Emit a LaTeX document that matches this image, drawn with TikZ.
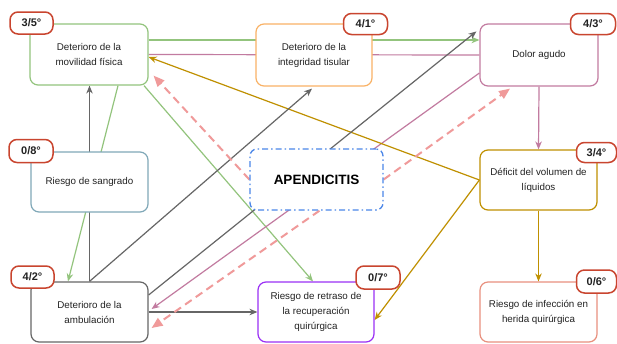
\documentclass[tikz,border=0pt]{standalone}
\usepackage{fontspec}
\setmainfont{Liberation Sans}
\usetikzlibrary{arrows.meta,calc}
\pgfdeclarelayer{bg}
\pgfdeclarelayer{edges}
\pgfsetlayers{bg,edges,main}
\definecolor{cgreen}{HTML}{93C47D}
\definecolor{corange}{HTML}{F9B266}
\definecolor{cmauve}{HTML}{C27BA0}
\definecolor{cteal}{HTML}{80A8B8}
\definecolor{cblue}{HTML}{4A86E8}
\definecolor{cgold}{HTML}{BF9000}
\definecolor{cgray}{HTML}{666666}
\definecolor{cpurple}{HTML}{9B30F5}
\definecolor{csalmon}{HTML}{E8907E}
\definecolor{cred}{HTML}{C9452F}
\definecolor{cdash}{HTML}{F09A9A}
\definecolor{ctext}{HTML}{222222}
\begin{document}
\begin{tikzpicture}[x=1pt,y=-1pt,
  box/.style={draw, fill=white, rounded corners=8pt, line width=1.2pt, align=center,
    text=ctext, font=\fontsize{9.8}{15}\selectfont, inner sep=0pt},
  badge/.style={draw=cred, fill=white, rounded corners=8pt, line width=1.5pt,
    text=ctext, font=\bfseries\fontsize{11}{12}\selectfont, inner sep=0pt},
  conn/.style={line width=1.2pt, -{Stealth[length=8pt,width=6.5pt]}},
  plain/.style={line width=1.2pt},
  dconn/.style={line width=2pt, color=cdash, dash pattern=on 8pt off 5pt,
    -{Triangle[length=11pt,width=9pt]}}]
\useasboundingbox (0,0) rectangle (617,343);
\begin{pgfonlayer}{bg}
\fill[white] (0,0) rectangle (617,343);
\end{pgfonlayer}

% boxes
\node[box, draw=cgreen, minimum width=118pt, minimum height=61pt] (mov) at (89,54.5) {Deterioro de la\\movilidad física};
\node[box, draw=corange, minimum width=116pt, minimum height=62pt] (tis) at (314,55) {Deterioro de la\\integridad tisular};
\node[box, draw=cmauve, minimum width=118pt, minimum height=62pt] (dol) at (539,55) {Dolor agudo};
\node[box, draw=cteal, minimum width=117pt, minimum height=60pt] (san) at (89.5,182) {Riesgo de sangrado};
\node[box, draw=cblue, line width=1.3pt, dash pattern=on 6pt off 3pt on 1.5pt off 3pt,
  rounded corners=7pt, minimum width=133pt, minimum height=61pt,
  font=\bfseries\fontsize{13.5}{15}\selectfont, text=black] (ape) at (316.5,179.5) {APENDICITIS};
\node[box, draw=cgold, minimum width=117pt, minimum height=60pt] (def) at (538.5,180) {Déficit del volumen de\\líquidos};
\node[box, draw=cgray, minimum width=117pt, minimum height=60pt] (amb) at (89.5,312) {Deterioro de la\\ambulación};
\node[box, draw=cpurple, minimum width=116pt, minimum height=60pt] (ret) at (316,312) {Riesgo de retraso de\\la recuperación\\quirúrgica};
\node[box, draw=csalmon, minimum width=117pt, minimum height=60pt] (inf) at (538.5,312) {Riesgo de infección en\\herida quirúrgica};

% badges
\node[badge, minimum width=43pt, minimum height=22pt] (b1) at (31.5,23) {3/5°};
\node[badge, minimum width=44pt, minimum height=21pt] (b2) at (365.5,24) {4/1°};
\node[badge, minimum width=45pt, minimum height=21pt] (b3) at (593,24) {4/3°};
\node[badge, minimum width=44pt, minimum height=23pt] (b4) at (31,151) {0/8°};
\node[badge, minimum width=40pt, minimum height=20pt] (b5) at (596.5,152.5) {3/4°};
\node[badge, minimum width=43pt, minimum height=22pt] (b6) at (32.5,277) {4/2°};
\node[badge, minimum width=44pt, minimum height=23pt] (b7) at (378,277.5) {0/7°};
\node[badge, minimum width=40pt, minimum height=23pt] (b8) at (596.5,281.5) {0/6°};

\begin{pgfonlayer}{edges}
% green
\draw[conn, cgreen] ([yshift=14.5pt]mov.east) -- ([yshift=15pt]dol.west);
\draw[conn, cgreen] ([xshift=29pt]mov.south) -- ([xshift=-21.5pt]amb.north);
\draw[conn, cgreen] ([xshift=55pt]mov.south) -- ([xshift=-3pt]ret.north);
% mauve
\draw[plain, cmauve] (dol.west) -- (mov.east);
\draw[conn, cmauve] (dol.south) -- (def.north);
\draw[conn, cmauve] ([yshift=-18pt]dol.west) -- ([xshift=3pt,yshift=3pt]amb.east);
% gold
\draw[conn, cgold] (def.west) -- ([yshift=-2.5pt]mov.east);
\draw[conn, cgold] (def.west) -- ([yshift=-8pt]ret.east);
\draw[conn, cgold] (def.south) -- (inf.north);
% gray
\draw[conn, cgray] (amb.north) -- (amb.north |- mov.south);
\draw[conn, cgray] (amb.north) -- ([xshift=-2pt,yshift=-2pt]tis.south);
\draw[conn, cgray] ([yshift=17pt]amb.east) -- ([xshift=-3pt,yshift=-8pt]dol.north west);
\draw[conn, cgray] (amb.east) -- (ret.west);
% dashed
\draw[dconn] (ape.west) -- ([xshift=5pt,yshift=10pt]mov.south east);
\draw[dconn] (ape.east) -- ([xshift=-29pt,yshift=-2pt]dol.south);
\draw[dconn] ([xshift=3pt]ape.south) -- ([xshift=3pt,yshift=-16pt]amb.east);
\end{pgfonlayer}
\end{tikzpicture}
\end{document}
